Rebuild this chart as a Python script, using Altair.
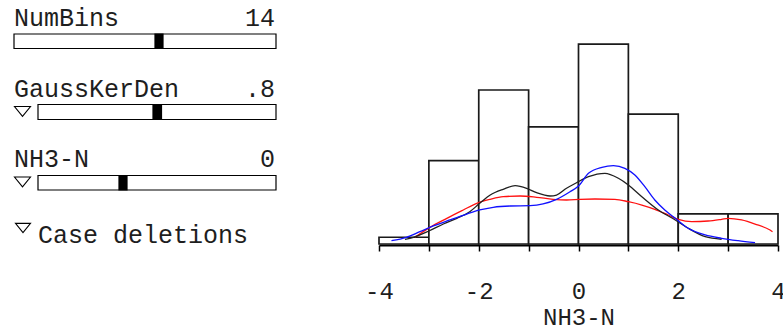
import altair as alt
import pandas as pd

# ---------------- data ----------------
bin_left = [-4, -3, -2, -1, 0, 1, 2, 3]
bin_right = [-3, -2, -1, 0, 1, 2, 3, 4]
bin_density = [0.009, 0.111, 0.205, 0.156, 0.266, 0.173, 0.040, 0.040]

black_x = [-3.48, -3.31, -3.0, -2.71, -2.44, -2.18, -1.98, -1.77, -1.51, -1.27, -1.04, -0.84, -0.57,
           -0.44, -0.24, -0.04, 0.20, 0.53, 0.80, 1.00, 1.27, 1.60, 1.94, 2.20, 2.54, 2.87]
black_y = [0.0063, 0.0089, 0.0173, 0.0266, 0.0342, 0.0430, 0.0542, 0.0652, 0.0728, 0.0776, 0.0742,
           0.0683, 0.0639, 0.0652, 0.0742, 0.0816, 0.0896, 0.0941, 0.0875, 0.0786, 0.0630, 0.0453,
           0.0320, 0.0209, 0.0097, 0.0063]

blue_x = [-3.75, -3.45, -3.18, -2.91, -2.58, -2.24, -1.98, -1.71, -1.37, -0.97, -0.71, -0.44, -0.17,
          0.00, 0.20, 0.47, 0.70, 0.93, 1.13, 1.33, 1.53, 1.73, 1.94, 2.20, 2.54, 2.87, 3.20, 3.54]
blue_y = [0.0044, 0.0089, 0.0164, 0.0240, 0.0320, 0.0399, 0.0453, 0.0489, 0.0506, 0.0510, 0.0533,
          0.0595, 0.0696, 0.0772, 0.0941, 0.1021, 0.1043, 0.1008, 0.0919, 0.0763, 0.0586, 0.0453,
          0.0342, 0.0209, 0.0120, 0.0076, 0.0044, 0.0017]

red_x = [-3.28, -2.98, -2.64, -2.31, -2.04, -1.77, -1.51, -1.17, -0.84, -0.51, -0.24, 0.03, 0.33,
         0.73, 1.00, 1.27, 1.53, 1.80, 2.00, 2.27, 2.60, 2.87, 3.00, 3.27, 3.54, 3.84, 3.89]
red_y = [0.0089, 0.0222, 0.0342, 0.0453, 0.0542, 0.0595, 0.0630, 0.0639, 0.0622, 0.0595, 0.0586,
         0.0595, 0.0599, 0.0595, 0.0563, 0.0519, 0.0462, 0.0386, 0.0329, 0.0297, 0.0306, 0.0329,
         0.0342, 0.0320, 0.0266, 0.0186, 0.0164]

slider_names = ["NumBins", "GaussKerDen", "NH3-N"]
slider_values = ["14", ".8", "0"]
checkbox_label = "Case deletions"
x_title = "NH3-N"
tick_values = [-4, -3, -2, -1, 0, 1, 2, 3, 4]

# ---------------- layout ----------------
X0, Y0 = 379, 40          # top-left of plot area in page pixels
PW, PH = 399, 204         # plot area
FONT = "Liberation Mono"
FS = 25
TXT = "#1e1e1e"
Y_MAX = 0.2716


def px(x):
    return x - X0


def py(y):
    return y - Y0


xs = alt.Scale(domain=[-4, 4], nice=False, zero=False)
ys = alt.Scale(domain=[0, Y_MAX], nice=False, zero=True)

hist_df = pd.DataFrame({"lo": bin_left, "hi": bin_right, "d": bin_density, "z": [0] * len(bin_left)})

bars = alt.Chart(hist_df).mark_rect(fill="white", stroke="#1a1a1a", strokeWidth=1.7).encode(
    x=alt.X("lo:Q", scale=xs, axis=alt.Axis(
        values=tick_values, labelExpr="datum.value % 2 == 0 ? toString(datum.value) : ''",
        title=x_title, grid=False, domainColor="black", domainWidth=2, tickColor="black",
        tickWidth=1.5, tickSize=6, labelFont=FONT, labelFontSize=24, labelColor=TXT,
        labelBaseline="alphabetic", labelPadding=47, labelFlush=False, labelOverlap=False,
        titleFont=FONT, titleFontSize=24, titleFontWeight="normal", titleColor=TXT,
        titleBaseline="alphabetic", titleY=79, offset=1)),
    x2="hi:Q",
    y=alt.Y("d:Q", scale=ys, axis=None),
    y2="z:Q",
)


def curve(xv, yv, color):
    df = pd.DataFrame({"x": xv, "y": yv})
    return alt.Chart(df).mark_line(color=color, strokeWidth=1.3, interpolate="monotone").encode(
        x=alt.X("x:Q", scale=xs), y=alt.Y("y:Q", scale=ys))


layers = [bars, curve(red_x, red_y, "#ff1010"), curve(black_x, black_y, "#202020"),
          curve(blue_x, blue_y, "#1010ff")]

one = pd.DataFrame({"k": [0]})


def text(s, x, y, align="left", font=FONT, size=FS):
    return alt.Chart(pd.DataFrame({"t": [s]})).mark_text(
        font=font, fontSize=size, align=align, baseline="alphabetic", color=TXT).encode(
        text="t:N", x=alt.value(px(x)), y=alt.value(py(y)))


def box(x1, y1, x2, y2, fill):
    return alt.Chart(one).mark_rect(fill=fill, stroke="black", strokeWidth=1.2).encode(
        x=alt.value(px(x1)), x2=alt.value(px(x2)), y=alt.value(py(y1)), y2=alt.value(py(y2)))


def tri(cx, cy, half):
    return alt.Chart(one).mark_point(
        shape="M-1,-0.62L1,-0.62L0,0.62Z", filled=False, stroke="black", strokeWidth=1.1,
        size=(2 * half) ** 2, opacity=1).encode(x=alt.value(px(cx)), y=alt.value(py(cy)))


label_base = [25.5, 97, 167]
slider_box = [(14, 34, 276, 48.5), (38, 104.5, 276, 119.5), (38, 175.5, 276, 190)]
thumbs = [(155, 163), (153, 161.5), (119, 127)]
tri_pos = [None, (22.5, 111.5), (22.5, 182)]

for i in range(3):
    layers.append(text(slider_names[i], 14, label_base[i]))
    layers.append(text(slider_values[i], 275, label_base[i], align="right"))
    x1, y1, x2, y2 = slider_box[i]
    layers.append(box(x1, y1, x2, y2, "white"))
    layers.append(box(thumbs[i][0], y1, thumbs[i][1], y2, "black"))
    if tri_pos[i] is not None:
        layers.append(tri(tri_pos[i][0], tri_pos[i][1], 8))

layers.append(tri(23, 228, 7.5))
layers.append(text(checkbox_label, 38, 243))

chart = alt.layer(*layers).properties(
    width=PW, height=PH,
    autosize=alt.AutoSizeParams(type="none"),
    padding={"left": X0, "top": Y0, "right": 783 - X0 - PW, "bottom": 331 - Y0 - PH},
    background="white",
).configure_view(stroke=None)

chart.save("out.html", embed_options={"renderer": "svg", "actions": False})
